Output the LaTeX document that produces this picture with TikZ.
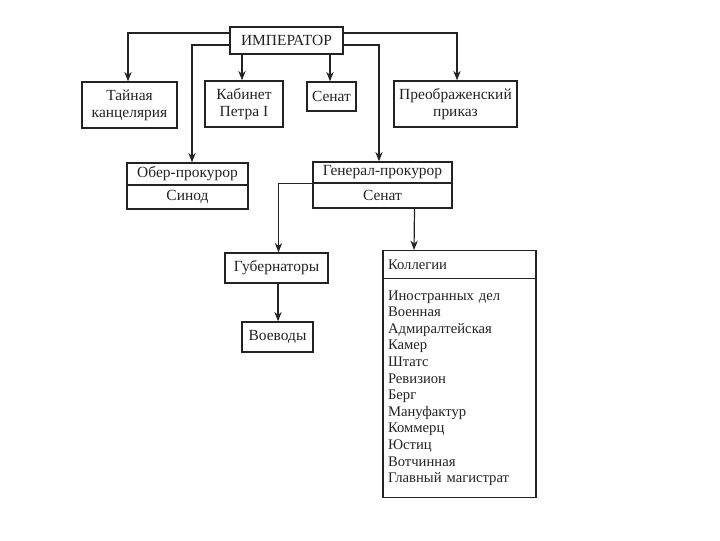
\documentclass[tikz,border=0pt]{standalone}
\usepackage{fontspec}
\setmainfont{Liberation Serif}
\usetikzlibrary{arrows.meta,calc}
\definecolor{ink}{RGB}{35,35,35}
\tikzset{
  box/.style={draw=ink, line width=1.1pt, text=ink, inner sep=1pt, align=center,
    font=\fontsize{11.6}{12.8}\selectfont},
  listbox/.style={box, align=left, inner xsep=5*0.75pt, text width=143*0.75pt,
    font=\fontsize{11}{12.45}\selectfont},
  arr/.style={draw=ink, line width=0.9pt, -{Stealth[length=7pt,width=5.5pt]}},
}
\begin{document}
\begin{tikzpicture}[x=0.75pt,y=-0.75pt]
\useasboundingbox (0,0) rectangle (720,540);
% top level
\node[box, minimum width=113*0.75pt, minimum height=27*0.75pt] (imp) at (286.5,40.5) {ИМПЕРАТОР};
\node[box, minimum width=95*0.75pt, minimum height=46*0.75pt] (tai) at (129.5,105) {Тайная\\канцелярия};
\node[box, minimum width=78*0.75pt, minimum height=46*0.75pt] (kab) at (244,104) {Кабинет\\Петра I};
\node[box, minimum width=49*0.75pt, minimum height=29*0.75pt] (sen) at (331.5,96.5) {Сенат};
\node[box, minimum width=123*0.75pt, minimum height=46*0.75pt] (pre) at (455.5,104) {Преображенский\\приказ};
% ober-prokuror
\node[box, minimum width=121*0.75pt, minimum height=22*0.75pt] (oberT) at (187.5,174) {Обер-прокурор};
\node[box, minimum width=121*0.75pt, minimum height=24*0.75pt] (oberB) at (187.5,197) {Синод};
% general-prokuror
\node[box, minimum width=139*0.75pt, minimum height=21*0.75pt] (genT) at (382.5,172.5) {Генерал-прокурор};
\node[box, minimum width=139*0.75pt, minimum height=25*0.75pt] (genB) at (382.5,195.5) {Сенат};
% governors
\node[box, minimum width=103*0.75pt, minimum height=30*0.75pt] (gub) at (276.5,268) {Губернаторы};
\node[box, minimum width=71*0.75pt, minimum height=30*0.75pt] (voe) at (277.5,337) {Воеводы};
% collegia
\node[listbox, minimum height=28*0.75pt, anchor=north] (kolH) at (459.5,250) {Коллегии};
\node[listbox, minimum height=219*0.75pt, anchor=north] (kolB) at (459.5,278)
 {Иностранных дел\\Военная\\Адмиралтейская\\Камер\\Штатс\\Ревизион\\Берг\\Мануфактур\\Коммерц\\Юстиц\\Вотчинная\\Главный магистрат};
% connectors
\draw[arr] ($(imp.west)+(0,-7.5)$) -| ($(tai.north)+(-1.5,0)$);
\draw[arr] ($(imp.south -| kab.north)+(-2,0)$) -- ($(kab.north)+(-2,0)$);
\draw[arr] ($(imp.south -| sen.north)+(-1.5,0)$) -- ($(sen.north)+(-1.5,0)$);
\draw[arr] ($(imp.east)+(0,-7.5)$) -| ($(pre.north)+(1.5,0)$);
\draw[arr] ($(imp.west)+(0,4.5)$) -| ($(oberT.north)+(4.5,0)$);
\draw[arr] ($(imp.east)+(0,4.5)$) -| ($(genT.north)+(-3.5,0)$);
\draw[arr] (genT.south west) -| ($(gub.north)+(2,0)$);
\draw[arr] ($(genB.south)+(32,0)$) -- ($(kolH.north)+(-45.5,0)$);
\draw[arr] ($(gub.south)+(1.5,0)$) -- ($(voe.north)+(0.5,0)$);
\end{tikzpicture}
\end{document}
